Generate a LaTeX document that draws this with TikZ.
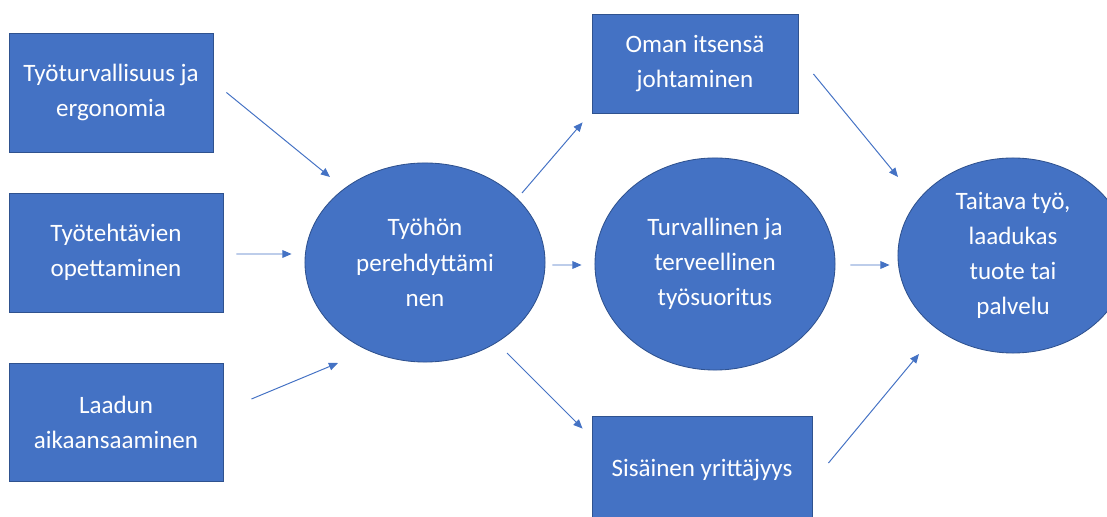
\documentclass[tikz,border=0pt]{standalone}
\usepackage{fontspec}
\setmainfont{Carlito}
\usepackage{tikz}
\usetikzlibrary{shapes,positioning,calc}
\usetikzlibrary{shapes.geometric}
\usetikzlibrary{arrows.meta}
\definecolor{sininen}{HTML}{4472C4}
\definecolor{reuna}{HTML}{2F528F}
\tikzstyle{laatikko} = [rectangle, minimum height=2.975cm, inner sep=0pt, text centered, align=center,
fill=sininen, draw=reuna, line width=0.6pt, text=white, font=\fontsize{17.8}{25}\selectfont]
\tikzstyle{soikio} = [ellipse, inner sep=0pt, text centered, align=center,
fill=sininen, draw=reuna, line width=0.6pt, text=white, font=\fontsize{17.8}{25}\selectfont]
\tikzstyle{arrow} = [sininen, line width=0.7pt, -{Triangle[length=6.5pt,width=5.5pt]}]

\begin{document}
\begin{tikzpicture}[x=0.025cm, y=-0.025cm]
\useasboundingbox (0,0) rectangle (1107,517);
						\node (b1) at (111,92.5) [laatikko, minimum width=5.1cm] {Työturvallisuus ja\\ergonomia};
						\node (b2) at (116,252.5) [laatikko, minimum width=5.35cm] {Työtehtävien\\opettaminen};
						\node (b3) at (116,422) [laatikko, minimum width=5.35cm, minimum height=2.95cm] {Laadun\\aikaansaaminen};
						\node (e1) at (425,262.5) [soikio, minimum width=6cm, minimum height=4.975cm] {Työhön\\perehdyttämi\\nen};
						\node (e2) at (715,264) [soikio, minimum width=6cm, minimum height=5.3cm] {Turvallinen ja\\terveellinen\\työsuoritus};
						\node (e3) at (1013,255.5) [soikio, minimum width=5.75cm, minimum height=4.875cm] {Taitava työ,\\laadukas\\tuote tai\\palvelu};
						\node (t) at (695,63.5) [laatikko, minimum width=5.15cm, minimum height=2.475cm] {Oman itsensä\\johtaminen};
						\node (s) at (702,470) [laatikko, minimum width=5.5cm, minimum height=2.7cm] {Sisäinen yrittäjyys};
						\draw [arrow] ($(b1.east)+(13,0)$) -- ($(e1.center)+(-95,-85.5)$);
						\draw [arrow] ($(b2.east)+(13,1.5)$) -- ($(e1.west)+(-13,-8.5)$);
						\draw [arrow] ($(b3.east)+(28,-23)$) -- ($(e1.center)+(-87,100.5)$);
						\draw [arrow] ($(e1.center)+(97,-69.5)$) -- ($(t.south west)+(-9,9)$);
						\draw [arrow] ($(e1.east)+(7,2.5)$) -- ($(e2.west)+(-13,1)$);
						\draw [arrow] ($(e1.center)+(82,90.5)$) -- ($(s.north west)+(-9,13)$);
						\draw [arrow] ($(t.east)+(15,10.5)$) -- ($(e3.center)+(-115,-78.5)$);
						\draw [arrow] ($(e2.east)+(15,1)$) -- ($(e3.west)+(-8,9.5)$);
						\draw [arrow] ($(s.east)+(16,-7)$) -- ($(e3.center)+(-94,98.5)$);
					\end{tikzpicture}
\end{document}
